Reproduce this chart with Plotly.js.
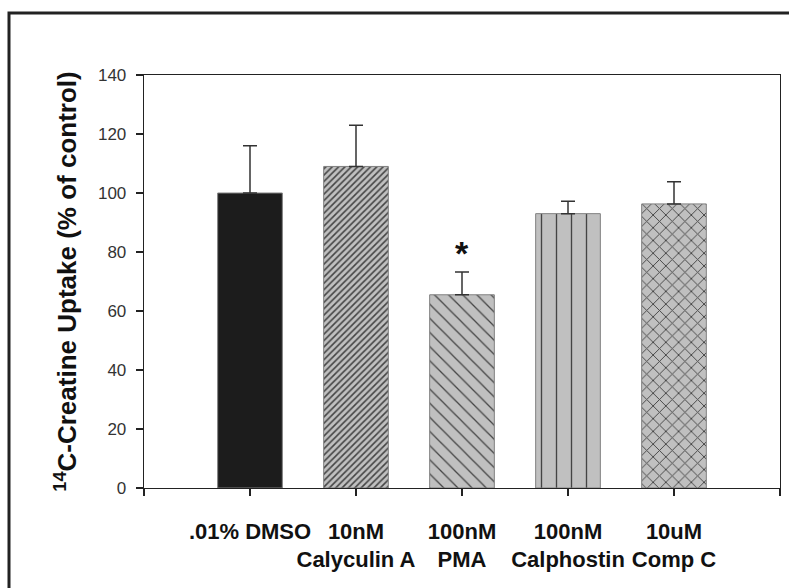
<!DOCTYPE html>
<html>
<head>
<meta charset="utf-8">
<script src="https://cdn.plot.ly/plotly-3.0.1.min.js"></script>
<style>html,body{margin:0;padding:0;background:#fff;}#chart{width:789px;height:588px;}</style>
</head>
<body>
<div id="chart"></div>
<script>
// ---- data ----
var categories = [".01% DMSO", "10nM<br>Calyculin A", "100nM<br>PMA", "100nM<br>Calphostin", "10uM<br>Comp C"];
var positions = [1, 2, 3, 4, 5];
var uptake = [100, 109, 65.5, 93, 96.3];
var sem = [16, 14, 7.7, 4.2, 7.5];
var significant = [false, false, true, false, false];

var yTickVals = [0, 20, 40, 60, 80, 100, 120, 140];

// ---- styles ----
var fills = ["#1c1c1c", "#c0c0c0", "#c0c0c0", "#c0c0c0", "#c0c0c0"];
var patterns = ["", "/", "\\", "|", "x"];
var patSizes = [8, 4.5, 10, 15, 9];
var patSolid = [0.1, 0.35, 0.13, 0.09, 0.2];

var bars = {
  type: "bar",
  x: positions,
  y: uptake,
  width: 0.61,
  marker: {
    color: fills,
    line: {color: "#808080", width: 1},
    pattern: {
      shape: patterns,
      fgcolor: "#404040",
      fgopacity: 1,
      size: patSizes,
      solidity: patSolid,
      fillmode: "overlay"
    }
  },
  error_y: {
    type: "data",
    symmetric: false,
    array: sem,
    arrayminus: sem.map(function(){return 0;}),
    color: "#333333",
    thickness: 1.5,
    width: 7
  },
  hoverinfo: "skip",
  showlegend: false
};

var annotations = [];
for (var i = 0; i < positions.length; i++) {
  if (significant[i]) {
    annotations.push({
      x: positions[i], y: uptake[i] + sem[i],
      xref: "x", yref: "y",
      text: "<b>*</b>", showarrow: false,
      yanchor: "bottom", yshift: -2,
      font: {family: "Liberation Sans, Arial, sans-serif", size: 34, color: "#111"}
    });
  }
}

var layout = {
  width: 789, height: 588,
  margin: {l: 144, r: 9, t: 75, b: 100, pad: 0},
  paper_bgcolor: "#ffffff",
  plot_bgcolor: "#ffffff",
  showlegend: false,
  xaxis: {
    range: [0, 6],
    tickmode: "array",
    tickvals: [0, 1, 2, 3, 4, 5, 6],
    ticktext: [""].concat(categories).concat([""]),
    tickangle: 0,
    ticks: "outside", ticklen: 7, tickwidth: 1.2, tickcolor: "#222",
    showline: true, linecolor: "#222", linewidth: 1.3, mirror: true,
    showgrid: false, zeroline: false,
    ticklabelstandoff: 16,
    tickfont: {family: "Liberation Sans, Arial, sans-serif", size: 22, color: "#111", weight: "bold"}
  },
  yaxis: {
    range: [0, 140],
    tickmode: "array",
    tickvals: yTickVals,
    ticks: "outside", ticklen: 7, tickwidth: 1.2, tickcolor: "#222",
    showline: true, linecolor: "#222", linewidth: 1.3, mirror: true,
    showgrid: false, zeroline: false,
    ticklabelstandoff: 6,
    tickfont: {family: "Liberation Sans, Arial, sans-serif", size: 17, color: "#333"},
    title: {
      text: "<sup>14</sup>C-Creatine Uptake (% of control)",
      standoff: 13,
      font: {family: "Liberation Sans, Arial, sans-serif", size: 26, color: "#111", weight: "bold"}
    }
  },
  annotations: annotations,
  shapes: [{
    type: "rect", xref: "paper", yref: "paper",
    x0: (9 - 144) / 636, x1: 1.05,
    y0: -0.3, y1: (488 - 13) / 413,
    line: {color: "#222", width: 3},
    fillcolor: "rgba(0,0,0,0)",
    layer: "below"
  }]
};

Plotly.newPlot("chart", [bars], layout, {staticPlot: true, displayModeBar: false});
</script>
</body>
</html>
